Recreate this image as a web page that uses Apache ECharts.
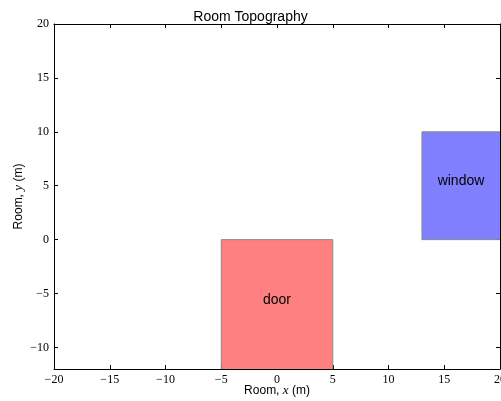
<!DOCTYPE html>
<html><head><meta charset="utf-8">
<script src="https://cdn.jsdelivr.net/npm/echarts@6/dist/echarts.min.js"></script>
<style>html,body{margin:0;padding:0;background:#fff}#c{width:501px;height:401px}</style>
</head><body><div id="c"></div>
<script>
const rectNames = ['door', 'window'];
const rectX0 = [-5, 13];
const rectX1 = [5, 23];
const rectY0 = [-14, 0];
const rectY1 = [0, 10];
const labelX = [0, 16.5];
const labelY = [-5.6, 5.4];
const rectColors = ['#ff8080', '#8080ff'];
const xTicks = [-20, -15, -10, -5, 0, 5, 10, 15, 20];
const yTicks = [-10, -5, 0, 5, 10, 15, 20];

const chart = echarts.init(document.getElementById('c'));
const fmt = v => (v < 0 ? '\u2212' + Math.abs(v) : String(v));
const tickFont = {fontFamily: 'Liberation Serif', fontSize: 12, color: '#000'};
const axLine = {show: true, onZero: false, lineStyle: {color: '#000', width: 1}};
const tick = {inside: true, length: 4, lineStyle: {color: '#000'}};
const data = rectNames.map((n, i) => [rectX0[i], rectX1[i], rectY0[i], rectY1[i], labelX[i], labelY[i], i]);
const nameRich = {a: {fontFamily: 'Liberation Sans', fontSize: 12, color: '#000'},
  b: {fontFamily: 'Liberation Serif', fontStyle: 'italic', fontSize: 13, color: '#000'}};

chart.setOption({
  animation: false,
  title: {text: 'Room Topography', left: 'center', top: 5,
    textStyle: {fontFamily: 'Liberation Sans', fontSize: 14, fontWeight: 'normal', color: '#000'}},
  grid: {left: 54, right: 1, top: 24, bottom: 32, outerBoundsMode: 'none', containLabel: false},
  xAxis: [{
    type: 'value', min: -20, max: 20, interval: 5, position: 'bottom',
    axisLine: axLine, splitLine: {show: false},
    axisTick: Object.assign({customValues: xTicks}, tick),
    axisLabel: Object.assign({formatter: fmt, margin: 5, customValues: xTicks, showMaxLabel: true, hideOverlap: false}, tickFont),
    name: '{a|Room, }{b|x}{a| (m)}', nameLocation: 'middle', nameGap: 15, nameMoveOverlap: false,
    nameTextStyle: {rich: nameRich}
  }, {
    type: 'value', min: -20, max: 20, interval: 5, position: 'top',
    axisLine: axLine, splitLine: {show: false},
    axisTick: Object.assign({customValues: xTicks}, tick),
    axisLabel: {show: false}
  }],
  yAxis: [{
    type: 'value', min: -12, max: 20, position: 'left',
    axisLine: axLine, splitLine: {show: false},
    axisTick: Object.assign({customValues: yTicks}, tick),
    axisLabel: Object.assign({formatter: fmt, margin: 5, customValues: yTicks}, tickFont),
    name: '{a|Room, }{b|y}{a| (m)}', nameLocation: 'middle', nameGap: 29, nameRotate: 90, nameMoveOverlap: false,
    nameTextStyle: {rich: nameRich}
  }, {
    type: 'value', min: -12, max: 20, position: 'right',
    axisLine: axLine, splitLine: {show: false},
    axisTick: Object.assign({customValues: yTicks}, tick),
    axisLabel: {show: false}
  }],
  series: [{
    type: 'custom', clip: true, xAxisIndex: 0, yAxisIndex: 0,
    data: data,
    renderItem: function (params, api) {
      const p0 = api.coord([api.value(0), api.value(3)]);
      const p1 = api.coord([api.value(1), api.value(2)]);
      const full = {x: p0[0], y: p0[1], width: p1[0] - p0[0], height: p1[1] - p0[1]};
      const idx = api.value(6);
      const lp = api.coord([api.value(4), api.value(5)]);
      return {
        type: 'group',
        children: [{
          type: 'rect', shape: full,
          style: {fill: rectColors[idx], stroke: '#888', lineWidth: 1}
        }, {
          type: 'text',
          style: {text: rectNames[idx], x: lp[0], y: lp[1],
            align: 'center', verticalAlign: 'middle', fontFamily: 'Liberation Sans', fontSize: 14, fill: '#000'}
        }]
      };
    }
  }]
});
</script></body></html>
